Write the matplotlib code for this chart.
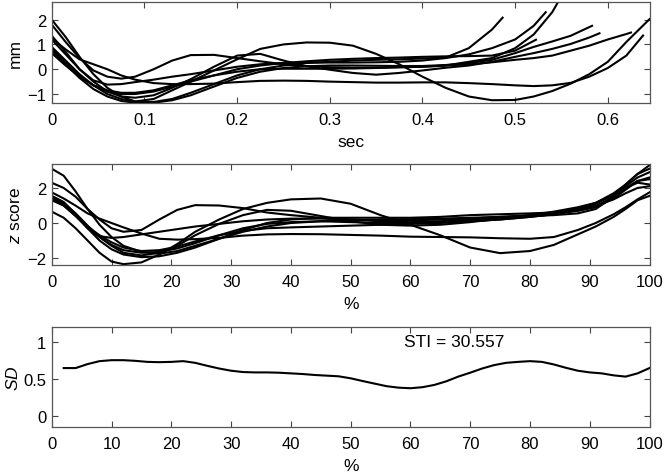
import matplotlib
matplotlib.use("Agg")
import matplotlib.pyplot as plt

plt.rcParams['font.family'] = ['Liberation Sans', 'DejaVu Sans']
plt.rcParams['mathtext.fontset'] = 'custom'
plt.rcParams['mathtext.rm'] = 'Liberation Sans'
plt.rcParams['mathtext.it'] = 'Liberation Sans:italic'

# ---- top panel: displacement (mm) vs time (sec) ----
t_grid = [0, .015, .03, .045, .06, .075, .09, .11, .13, .15, .175, .2, .225, .25, .275,
          .3, .325, .35, .375, .4, .425, .45, .475, .5, .52, .54, .56, .58, .6, .62]

mm_A = [2.0, 1.3, 0.5, -0.2, -0.75, -1.1, -1.3, -1.32, -1.2, -0.95, -0.6, -0.25, 0.0, 0.15, 0.25,
        0.3, 0.35, 0.38, 0.4, 0.43, 0.47, 0.85, 1.6]
mm_B = [1.35, 0.7, 0.0, -0.45, -0.62, -0.6, -0.52, -0.42, -0.3, -0.2, -0.05, 0.1, 0.2, 0.25, 0.27,
        0.27, 0.27, 0.28, 0.3, 0.35, 0.45, 0.6, 0.85, 1.2, 1.75]
mm_C = [1.8, 1.1, 0.45, -0.05, -0.3, -0.38, -0.3, 0.0, 0.35, 0.57, 0.58, 0.45, 0.32, 0.2, 0.12,
        0.08, 0.06, 0.06, 0.08, 0.1, 0.15, 0.3, 0.45, 0.85, 1.4, 2.3]
mm_D = [0.85, 0.3, -0.25, -0.65, -0.9, -1.0, -1.0, -0.9, -0.7, -0.5, -0.25, 0.0, 0.15, 0.25, 0.32,
        0.38, 0.42, 0.45, 0.47, 0.5, 0.52, 0.53, 0.55, 0.75]
mm_E = [0.75, 0.2, -0.35, -0.8, -1.1, -1.28, -1.35, -1.35, -1.25, -1.05, -0.7, -0.35, -0.1, 0.05, 0.12,
        0.15, 0.15, 0.14, 0.13, 0.13, 0.17, 0.25, 0.38, 0.65, 0.9, 1.12, 1.35, 1.7]
mm_H = [0.65, 0.15, -0.3, -0.65, -0.85, -0.95, -0.95, -0.85, -0.65, -0.45, -0.25, -0.1, 0.0, 0.02, 0.02,
        0.02, 0.03, 0.05, 0.08, 0.1, 0.15, 0.2, 0.28, 0.38, 0.45, 0.55, 0.75, 0.95, 1.2, 1.42]
mm_I = [1.25, 0.8, 0.4, 0.2, 0.0, -0.25, -0.42, -0.56, -0.6, -0.6, -0.58, -0.52, -0.47, -0.46, -0.47,
        -0.5, -0.52, -0.54, -0.54, -0.53, -0.53, -0.56, -0.6, -0.65, -0.68, -0.65, -0.55, -0.3, 0.05, 0.55]
mm_J = [0.9, 0.35, -0.2, -0.65, -1.0, -1.2, -1.3, -1.2, -0.85, -0.5, -0.05, 0.4, 0.82, 1.0, 1.08,
        1.07, 0.95, 0.62, 0.2, -0.3, -0.75, -1.1, -1.25, -1.24, -1.1, -0.88, -0.58, -0.2, 0.3, 1.1]
mm_K = [1.2, 0.6, 0.0, -0.5, -0.9, -1.1, -1.15, -1.05, -0.75, -0.4, 0.1, 0.55, 0.62, 0.35, 0.12,
        -0.02, -0.15, -0.22, -0.15, -0.05, 0.06, 0.15, 0.3, 0.5, 0.65, 0.82, 1.02, 1.28]
mm_curves = [mm_A, mm_B, mm_C, mm_D, mm_E, mm_H, mm_I, mm_J, mm_K]
t_end = [0.4865, 0.533, 0.55, 0.5225, 0.583, 0.625, 0.638, 0.645, 0.591]
mm_end = [2.08, 2.3, 2.95, 1.19, 1.75, 1.48, 1.36, 2.02, 1.45]

# ---- middle panel: z score vs % of movement ----
pct_grid = [0, 2, 4, 6, 8, 10, 12, 15, 18, 21, 24, 28, 32, 36, 40, 45, 50, 55, 60, 65, 70, 75, 80,
            84, 88, 91, 94, 96, 98, 100]
z_A = [3.1, 2.7, 1.8, 0.8, -0.1, -0.8, -1.3, -1.65, -1.75, -1.6, -1.3, -0.9, -0.5, -0.2, 0.0, 0.1, 0.15,
       0.2, 0.22, 0.25, 0.3, 0.35, 0.4, 0.45, 0.55, 0.8, 1.5, 2.2, 2.8, 3.3]
z_B = [1.35, 1.0, 0.4, -0.3, -0.75, -0.85, -0.8, -0.65, -0.5, -0.35, -0.2, -0.05, 0.1, 0.2, 0.25, 0.25,
       0.2, 0.15, 0.15, 0.2, 0.25, 0.35, 0.45, 0.6, 0.85, 1.15, 1.7, 2.2, 2.8, 3.1]
z_C = [2.3, 2.0, 1.5, 0.8, 0.2, -0.3, -0.5, -0.4, 0.2, 0.75, 1.02, 1.0, 0.85, 0.6, 0.45, 0.3, 0.2, 0.1,
       0.05, 0.1, 0.2, 0.3, 0.4, 0.5, 0.7, 0.95, 1.5, 2.0, 2.3, 2.2]
z_D = [1.55, 1.2, 0.5, -0.3, -1.0, -1.5, -1.8, -1.95, -1.9, -1.7, -1.4, -0.9, -0.4, 0.0, 0.2, 0.3, 0.3,
       0.3, 0.3, 0.35, 0.45, 0.5, 0.55, 0.6, 0.7, 0.9, 1.4, 1.9, 2.4, 2.5]
z_E = [1.4, 1.1, 0.5, -0.2, -0.8, -1.25, -1.55, -1.7, -1.65, -1.45, -1.15, -0.7, -0.3, -0.05, 0.05, 0.1,
       0.05, 0.0, 0.0, 0.05, 0.1, 0.2, 0.35, 0.5, 0.8, 1.1, 1.6, 2.1, 2.6, 2.9]
z_H = [1.3, 1.0, 0.4, -0.2, -0.7, -1.1, -1.4, -1.6, -1.55, -1.35, -1.05, -0.7, -0.45, -0.3, -0.25, -0.2,
       -0.15, -0.1, -0.05, 0.0, 0.1, 0.2, 0.35, 0.5, 0.75, 1.0, 1.35, 1.7, 2.0, 2.1]
z_I = [1.75, 1.4, 0.99, 0.55, 0.25, 0.0, -0.25, -0.6, -0.9, -0.95, -0.92, -0.85, -0.72, -0.65, -0.63,
       -0.64, -0.68, -0.72, -0.78, -0.8, -0.82, -0.87, -0.9, -0.8, -0.4, 0.0, 0.5, 0.9, 1.35, 1.75]
z_J = [0.65, 0.3, -0.3, -1.0, -1.7, -2.2, -2.35, -2.25, -1.8, -1.2, -0.5, 0.2, 0.8, 1.15, 1.35, 1.4, 1.1,
       0.45, -0.1, -0.7, -1.4, -1.72, -1.6, -1.25, -0.65, -0.2, 0.35, 0.8, 1.3, 1.55]
z_K = [1.5, 1.15, 0.55, -0.15, -0.8, -1.3, -1.7, -1.85, -1.7, -1.3, -0.7, -0.05, 0.45, 0.75, 0.7, 0.4,
       0.1, -0.1, -0.15, -0.1, 0.05, 0.25, 0.45, 0.65, 0.9, 1.15, 1.6, 2.0, 2.4, 2.6]
z_curves = [z_A, z_B, z_C, z_D, z_E, z_H, z_I, z_J, z_K]

# ---- bottom panel: SD of z scores every 2 % ----
sd_pct = list(range(2, 101, 2))
sd_vals = [0.646, 0.646, 0.70, 0.74, 0.753, 0.753, 0.744, 0.73, 0.726, 0.73,
           0.74, 0.717, 0.677, 0.64, 0.61, 0.592, 0.587, 0.587, 0.583, 0.574,
           0.565, 0.552, 0.543, 0.534, 0.507, 0.47, 0.435, 0.40, 0.38, 0.372,
           0.386, 0.417, 0.466, 0.53, 0.583, 0.64, 0.686, 0.717, 0.73, 0.74,
           0.73, 0.695, 0.65, 0.61, 0.587, 0.574, 0.547, 0.53, 0.574, 0.646]
sti_label = "STI = 30.557"

fig = plt.figure(figsize=(6.64, 4.77), dpi=100)
ax1 = fig.add_axes([0.0779, 0.7826, 0.9003, 0.2105])
ax2 = fig.add_axes([0.0779, 0.4430, 0.9003, 0.2111])
ax3 = fig.add_axes([0.0779, 0.1034, 0.9003, 0.2084])

lw = 1.5
for vals, te, ve in zip(mm_curves, t_end, mm_end):
    ax1.plot(t_grid[:len(vals)] + [te], vals + [ve], color='black', lw=lw)
for vals in z_curves:
    ax2.plot(pct_grid, vals, color='black', lw=lw)
ax3.plot(sd_pct, sd_vals, color='black', lw=lw)
ax3.text(59, 1.0, sti_label, ha='left', va='center', fontsize=12.5)

ax1.set_xlim(0, 0.645)
ax1.set_ylim(-1.35, 2.7)
ax1.set_xticks([0, 0.1, 0.2, 0.3, 0.4, 0.5, 0.6])
ax1.set_xticklabels(['0', '0.1', '0.2', '0.3', '0.4', '0.5', '0.6'])
ax1.set_yticks([-1, 0, 1, 2])
ax1.set_ylabel('mm')
ax1.set_xlabel('sec')

ax2.set_xlim(0, 100)
ax2.set_ylim(-2.38, 3.37)
ax2.set_xticks(range(0, 101, 10))
ax2.set_yticks([-2, 0, 2])
ax2.set_ylabel('$z$ score')
ax2.set_xlabel('%')

ax3.set_xlim(0, 100)
ax3.set_ylim(-0.15, 1.2)
ax3.set_xticks(range(0, 101, 10))
ax3.set_yticks([0, 0.5, 1])
ax3.set_yticklabels(['0', '0.5', '1'])
ax3.set_ylabel('$SD$')
ax3.set_xlabel('%')

for ax in (ax1, ax2, ax3):
    ax.tick_params(direction='in', top=True, right=True, length=4, width=0.8,
                   labelsize=12, color='#444444')
    ax.tick_params(axis='x', pad=7)
    ax.tick_params(axis='y', pad=4)
    for s in ax.spines.values():
        s.set_color('#555555')
        s.set_linewidth(0.9)
    ax.xaxis.label.set_size(12.5)
    ax.yaxis.label.set_size(12.5)
    ax.xaxis.labelpad = 5
    ax.yaxis.set_label_coords(-0.048, 0.5)
ax3.yaxis.set_label_coords(-0.051, 0.5)

fig.savefig('out.png', dpi=100)
